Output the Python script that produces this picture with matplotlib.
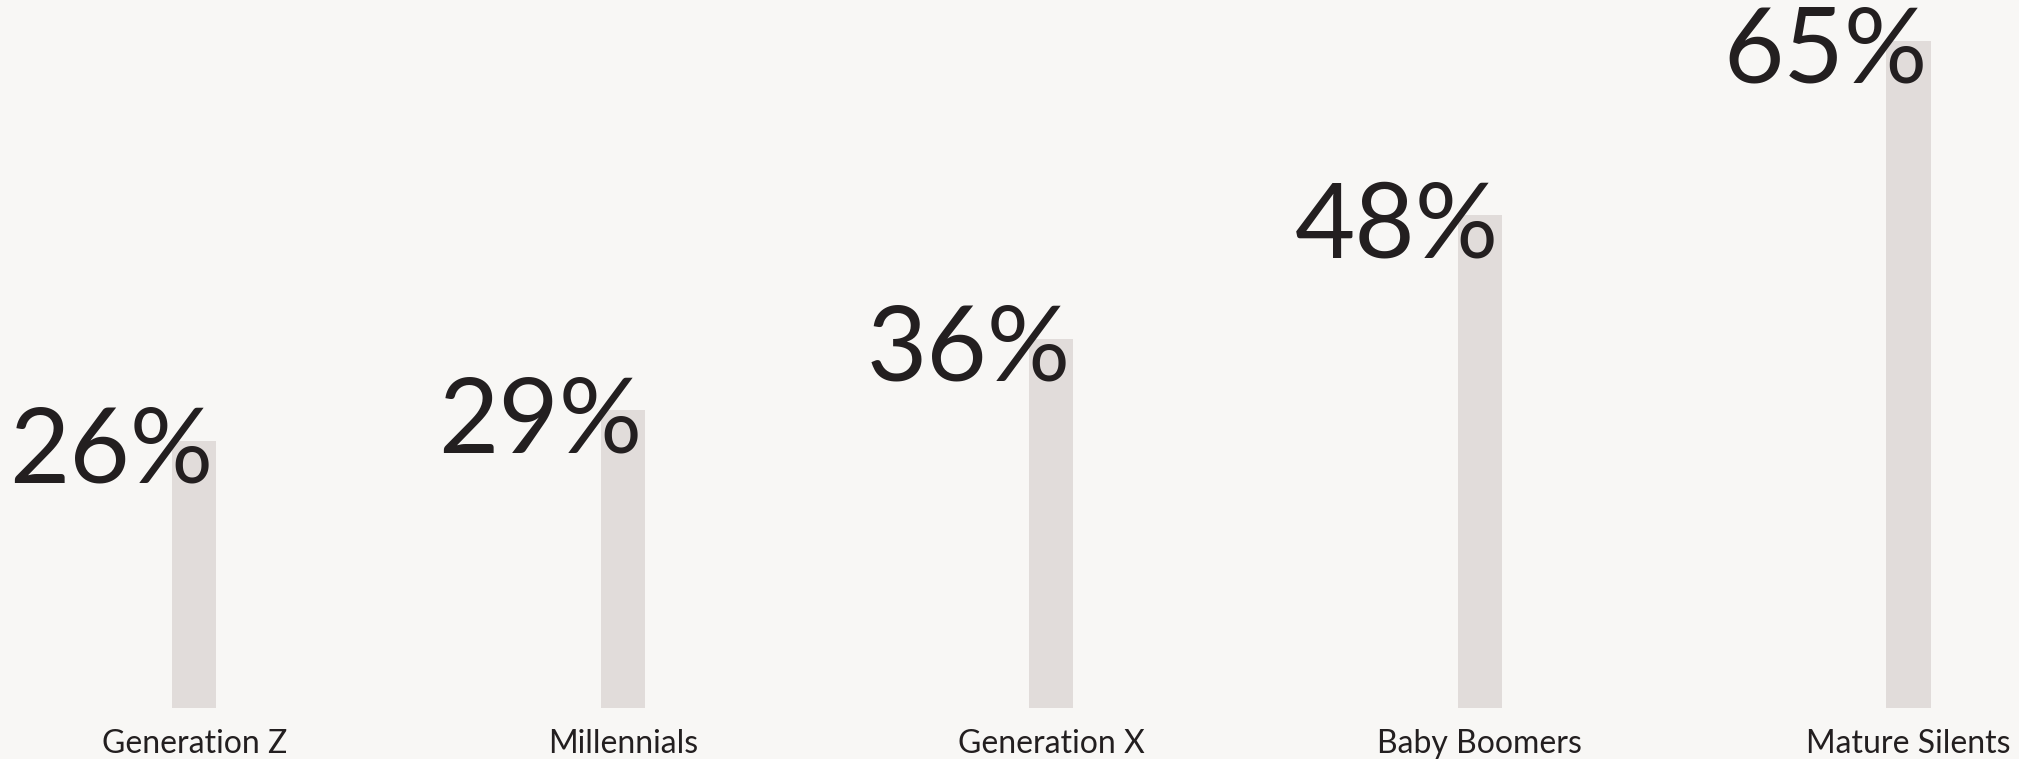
import numpy as np
import matplotlib.pyplot as plt

# share of each generation (percent)
generations = ["Generation Z", "Millennials", "Generation X", "Baby Boomers", "Mature Silents"]
shares = [26, 29, 36, 48, 65]

bg = "#f8f7f5"
bar_color = "#e1dcda"
text_color = "#231f20"

fig = plt.figure(figsize=(20.19, 7.59), dpi=100, facecolor=bg)
ax = fig.add_axes([0, 51 / 759, 1, 708 / 759])
ax.set_facecolor(bg)

x = np.arange(len(generations))
width = 0.103
ax.bar(x, shares, width=width, color=bar_color, zorder=1)

for xi, v in zip(x, shares):
    ax.annotate(f"{v}%", xy=(xi + width / 2, v), xytext=(-2, -30),
                textcoords="offset points", ha="right", va="baseline",
                fontsize=75, fontfamily="Lato", fontweight="normal",
                color=text_color, zorder=2)

ax.set_xlim(-0.4537, 4.258)
ax.set_ylim(0, 69)
ax.set_xticks(x, generations, fontsize=23, fontfamily="Lato", color=text_color)
ax.tick_params(axis="x", length=0, pad=15)
ax.set_yticks([])
for s in ax.spines.values():
    s.set_visible(False)

fig.savefig("out.png", dpi=100, facecolor=bg)
